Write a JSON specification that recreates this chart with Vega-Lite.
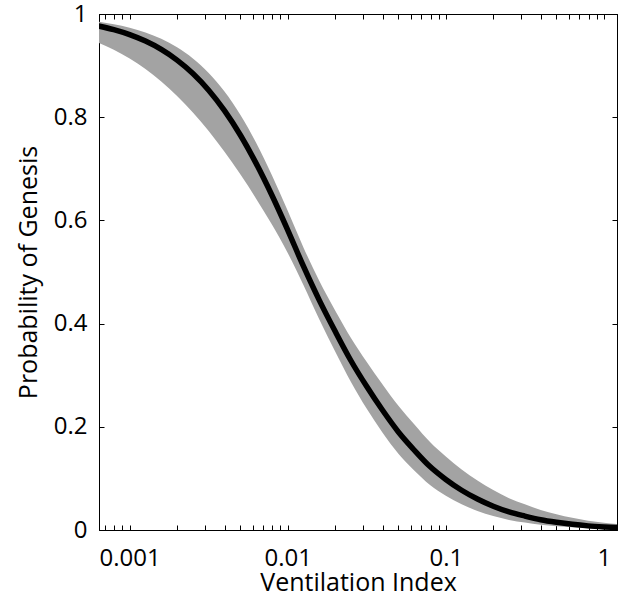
{
  "$schema": "https://vega.github.io/schema/vega-lite/v6.json",
  "width": 518,
  "height": 516,
  "autosize": {"type": "none"},
  "padding": {"left": 99, "top": 14, "right": 4, "bottom": 71},
  "background": "white",
  "config": {
    "view": {"stroke": "black", "strokeWidth": 1},
    "axis": {
      "domainColor": "black", "tickColor": "black", "labelColor": "black", "titleColor": "black",
      "labelFont": "Open Sans", "titleFont": "Open Sans", "labelFontSize": 24, "titleFontSize": 25,
      "titleFontWeight": "normal", "grid": false, "tickSize": -5, "domainWidth": 1, "tickWidth": 1
    }
  },
  "data": {
    "values": [
      {"vi": 0.000631, "p": 0.977, "lo": 0.9447, "hi": 0.9854},
      {"vi": 0.000794, "p": 0.9696, "lo": 0.9306, "hi": 0.9803},
      {"vi": 0.001, "p": 0.960, "lo": 0.9136, "hi": 0.9735},
      {"vi": 0.001259, "p": 0.9475, "lo": 0.8933, "hi": 0.9643},
      {"vi": 0.001585, "p": 0.9314, "lo": 0.8692, "hi": 0.9521},
      {"vi": 0.001995, "p": 0.9107, "lo": 0.8413, "hi": 0.9356},
      {"vi": 0.002512, "p": 0.8847, "lo": 0.8093, "hi": 0.9139},
      {"vi": 0.003162, "p": 0.8523, "lo": 0.7733, "hi": 0.8859},
      {"vi": 0.003981, "p": 0.8127, "lo": 0.7330, "hi": 0.8497},
      {"vi": 0.005012, "p": 0.7655, "lo": 0.6893, "hi": 0.8047},
      {"vi": 0.00631, "p": 0.7105, "lo": 0.6422, "hi": 0.7503},
      {"vi": 0.007943, "p": 0.6487, "lo": 0.5919, "hi": 0.6874},
      {"vi": 0.01, "p": 0.5813, "lo": 0.5369, "hi": 0.6185},
      {"vi": 0.01259, "p": 0.5107, "lo": 0.4743, "hi": 0.5471},
      {"vi": 0.01585, "p": 0.445, "lo": 0.408, "hi": 0.4825},
      {"vi": 0.01995, "p": 0.385, "lo": 0.3461, "hi": 0.4256},
      {"vi": 0.02512, "p": 0.328, "lo": 0.2868, "hi": 0.3722},
      {"vi": 0.03162, "p": 0.278, "lo": 0.2349, "hi": 0.3258},
      {"vi": 0.03981, "p": 0.232, "lo": 0.1886, "hi": 0.2819},
      {"vi": 0.05012, "p": 0.190, "lo": 0.1479, "hi": 0.2407},
      {"vi": 0.0631, "p": 0.155, "lo": 0.1154, "hi": 0.2050},
      {"vi": 0.07943, "p": 0.123, "lo": 0.0874, "hi": 0.1705},
      {"vi": 0.1, "p": 0.098, "lo": 0.0664, "hi": 0.1423},
      {"vi": 0.1259, "p": 0.077, "lo": 0.0497, "hi": 0.1174},
      {"vi": 0.1585, "p": 0.060, "lo": 0.0369, "hi": 0.0960},
      {"vi": 0.1995, "p": 0.046, "lo": 0.0270, "hi": 0.0773},
      {"vi": 0.2512, "p": 0.035, "lo": 0.0196, "hi": 0.0617},
      {"vi": 0.3162, "p": 0.027, "lo": 0.0144, "hi": 0.0500},
      {"vi": 0.3981, "p": 0.020, "lo": 0.0102, "hi": 0.0389},
      {"vi": 0.5012, "p": 0.015, "lo": 0.0073, "hi": 0.0306},
      {"vi": 0.631, "p": 0.011, "lo": 0.0051, "hi": 0.0235},
      {"vi": 0.7943, "p": 0.008, "lo": 0.0036, "hi": 0.0179},
      {"vi": 1.0, "p": 0.006, "lo": 0.0025, "hi": 0.0141},
      {"vi": 1.259, "p": 0.0045, "lo": 0.0018, "hi": 0.0110}
    ]
  },
  "layer": [
    {
      "mark": {"type": "area", "color": "#a3a3a3", "interpolate": "monotone", "clip": true},
      "encoding": {
        "x": {
          "field": "vi", "type": "quantitative",
          "scale": {"type": "log", "domain": [0.00064, 1.21], "nice": false},
          "axis": {
            "orient": "bottom",
            "values": [0.0007, 0.0008, 0.0009, 0.001, 0.002, 0.003, 0.004, 0.005, 0.006, 0.007, 0.008, 0.009, 0.01, 0.02, 0.03, 0.04, 0.05, 0.06, 0.07, 0.08, 0.09, 0.1, 0.2, 0.3, 0.4, 0.5, 0.6, 0.7, 0.8, 0.9, 1],
            "format": "~g",
            "labelExpr": "datum.value == 0.001 || datum.value == 0.01 || datum.value == 0.1 || datum.value == 1 ? datum.label : ''",
            "labelOverlap": false,
            "labelPadding": 21,
            "labelDx": -3,
            "title": "Ventilation Index",
            "titlePadding": 0
          }
        },
        "y": {
          "field": "lo", "type": "quantitative",
          "scale": {"domain": [0, 1], "nice": false},
          "axis": {
            "orient": "left",
            "values": [0, 0.2, 0.4, 0.6, 0.8, 1],
            "format": "~g",
            "labelPadding": 17,
            "title": "Probability of Genesis",
            "titlePadding": 12
          }
        },
        "y2": {"field": "hi"}
      }
    },
    {
      "mark": {"type": "line", "color": "black", "strokeWidth": 5.5, "interpolate": "monotone", "clip": true},
      "encoding": {
        "x": {
          "field": "vi", "type": "quantitative",
          "axis": {
            "orient": "top",
            "values": [0.0007, 0.0008, 0.0009, 0.001, 0.002, 0.003, 0.004, 0.005, 0.006, 0.007, 0.008, 0.009, 0.01, 0.02, 0.03, 0.04, 0.05, 0.06, 0.07, 0.08, 0.09, 0.1, 0.2, 0.3, 0.4, 0.5, 0.6, 0.7, 0.8, 0.9, 1],
            "labels": false,
            "title": null
          }
        },
        "y": {
          "field": "p", "type": "quantitative",
          "axis": {"orient": "right", "values": [0, 0.2, 0.4, 0.6, 0.8, 1], "labels": false, "title": null}
        }
      }
    }
  ],
  "resolve": {"axis": {"x": "independent", "y": "independent"}}
}
